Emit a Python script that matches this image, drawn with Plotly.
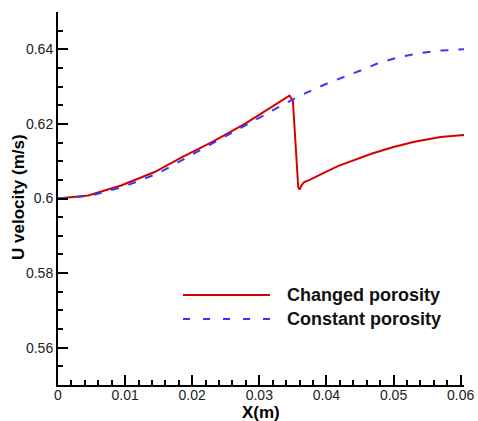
import plotly.graph_objects as go

# Changed porosity (red solid)
x_changed = [0, 0.0045, 0.0094, 0.0144, 0.0185, 0.0230, 0.0279, 0.0328, 0.0345, 0.0350,
             0.0358, 0.0360, 0.0363, 0.0367, 0.0375, 0.0400, 0.0417, 0.0467, 0.0500,
             0.0531, 0.0570, 0.0605]
y_changed = [0.6000, 0.6008, 0.6035, 0.6071, 0.6111, 0.6152, 0.6201, 0.6255, 0.6276, 0.6262,
             0.6030, 0.6024, 0.6036, 0.6044, 0.6050, 0.6072, 0.6087, 0.6120, 0.6138,
             0.6152, 0.6165, 0.6170]

# Constant porosity (blue dashed)
x_constant = [0, 0.0050, 0.0100, 0.0150, 0.0195, 0.0245, 0.0294, 0.0348, 0.0373, 0.0402,
              0.0452, 0.0476, 0.0506, 0.0536, 0.0565, 0.0595, 0.0605]
y_constant = [0.6000, 0.6008, 0.6033, 0.6068, 0.6113, 0.6163, 0.6212, 0.6264, 0.6286, 0.6309,
              0.6344, 0.6362, 0.6378, 0.6389, 0.6396, 0.6400, 0.6400]

series_names = ["Changed porosity", "Constant porosity"]
x_ticks = [0, 0.01, 0.02, 0.03, 0.04, 0.05, 0.06]
x_ticklabels = ["0", "0.01", "0.02", "0.03", "0.04", "0.05", "0.06"]
y_ticks = [0.56, 0.58, 0.60, 0.62, 0.64]
y_ticklabels = ["0.56", "0.58", "0.6", "0.62", "0.64"]

RED = "rgb(215,0,0)"
BLUE = "rgb(55,55,255)"
FONT = "Liberation Sans, Arial, sans-serif"

fig = go.Figure()
fig.add_trace(go.Scatter(x=x_changed, y=y_changed, mode="lines", name=series_names[0],
                         line=dict(color=RED, width=2), showlegend=False))
fig.add_trace(go.Scatter(x=x_constant, y=y_constant, mode="lines", name=series_names[1],
                         line=dict(color=BLUE, width=2, dash="8px,10px"), showlegend=False))

# body margin is removed by the post script, so the figure fills the window
PL, PR, PT, PB = 58, 464, 12, 385   # plot area in page pixels
W, H = 478, 421
L, T = PL, PT
R, B = W - PR, H - PB
pw, ph = PR - PL, PB - PT

def px(xp):
    return (xp - PL) / pw

def py(yp):
    return (PB - yp) / ph

# Manual legend
fig.add_shape(type="line", xref="paper", yref="paper", x0=px(183), x1=px(270),
              y0=py(295), y1=py(295), line=dict(color=RED, width=2))
fig.add_shape(type="line", xref="paper", yref="paper", x0=px(183), x1=px(270),
              y0=py(319), y1=py(319), line=dict(color=BLUE, width=2, dash="7px,13px"))
fig.add_annotation(xref="paper", yref="paper", x=px(285), y=py(295), xanchor="left",
                   yanchor="middle", text="<b>" + series_names[0] + "</b>", showarrow=False,
                   font=dict(family=FONT, size=18, color="#111"))
fig.add_annotation(xref="paper", yref="paper", x=px(285), y=py(319), xanchor="left",
                   yanchor="middle", text="<b>" + series_names[1] + "</b>", showarrow=False,
                   font=dict(family=FONT, size=18, color="#111"))

# Axis titles
fig.add_annotation(xref="paper", yref="paper", x=px(261), y=py(412), xanchor="center",
                   yanchor="middle", text="<b>X(m)</b>", showarrow=False,
                   font=dict(family=FONT, size=17, color="black"))
fig.add_annotation(xref="paper", yref="paper", x=px(18), y=py(197), xanchor="center",
                   yanchor="middle", text="<b>U velocity (m/s)</b>", showarrow=False,
                   textangle=-90, font=dict(family=FONT, size=17, color="black"))

axis_common = dict(
    showgrid=False, zeroline=False, showline=True, linecolor="black", linewidth=2,
    ticks="inside", ticklen=10, tickwidth=2, tickcolor="black",
    tickfont=dict(family=FONT, size=14, color="#222"),
    mirror=False,
)

fig.update_xaxes(range=[0, 0.0605], tickvals=x_ticks, ticktext=x_ticklabels,
                 minor=dict(dtick=0.002, ticks="inside", ticklen=5, tickwidth=1.5, tickcolor="black"),
                 ticklabelstandoff=-4, ticklabeloverflow="allow", **axis_common)
fig.update_yaxes(range=[0.55, 0.65], tickvals=y_ticks, ticktext=y_ticklabels,
                 minor=dict(dtick=0.005, ticks="inside", ticklen=5, tickwidth=1.5, tickcolor="black"),
                 **axis_common)

fig.update_layout(width=W, height=H, margin=dict(l=L, r=R, t=T, b=B, autoexpand=False),
                  plot_bgcolor="white", paper_bgcolor="white",
                  font=dict(family=FONT))

post = ("document.documentElement.style.overflow='hidden';"
        "document.body.style.margin='0';document.body.style.overflow='hidden';")
fig.write_html("out.html", post_script=post, config={"displayModeBar": False})
